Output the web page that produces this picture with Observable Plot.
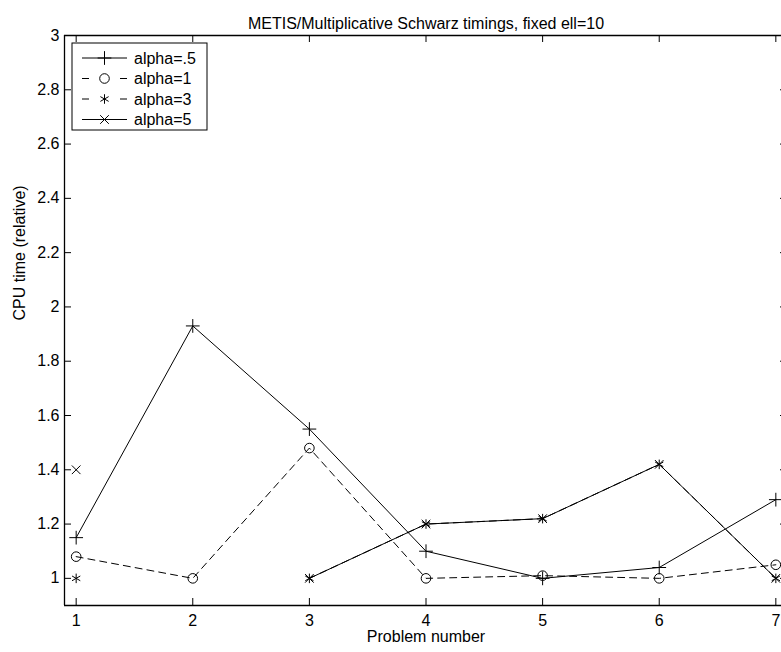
<!DOCTYPE html>
<html><head><meta charset="utf-8">
<script src="https://cdn.jsdelivr.net/npm/d3@7"></script>
<script src="https://cdn.jsdelivr.net/npm/@observablehq/plot@0.6"></script>
<style>
html,body{margin:0;padding:0;background:#fff;}
#chart{width:781px;height:652px;overflow:hidden;position:relative;}
</style></head><body><div id="chart"></div>
<script>
const problems = [1, 2, 3, 4, 5, 6, 7];
const seriesNames = ["alpha=.5", "alpha=1", "alpha=3", "alpha=5"];
const alpha05 = [1.15, 1.93, 1.55, 1.10, 1.00, 1.04, 1.29];
const alpha1  = [1.08, 1.00, 1.48, 1.00, 1.01, 1.00, 1.05];
const alpha3  = [1.00, null, 1.00, 1.20, 1.22, 1.42, 1.00];
const alpha5  = [1.40, null, 1.00, 1.20, 1.22, 1.42, 1.00];
const xTicks = [1, 2, 3, 4, 5, 6, 7];
const yTicks = [1, 1.2, 1.4, 1.6, 1.8, 2, 2.2, 2.4, 2.6, 2.8, 3];
const yTickLabels = ["1", "1.2", "1.4", "1.6", "1.8", "2", "2.2", "2.4", "2.6", "2.8", "3"];
const titleText = "METIS/Multiplicative Schwarz timings, fixed ell=10";
const xLabel = "Problem number";
const yLabel = "CPU time (relative)";

const seriesValues = [alpha05, alpha1, alpha3, alpha5];
const styles = [
  {dash: null, symbol: "plus", r: 4.5},
  {dash: "7,5", symbol: "circle", r: 4.8},
  {dash: "7,5", symbol: "asterisk", r: 4.5},
  {dash: null, symbol: "times", r: 4.0}
];

const rows = seriesNames.map((name, i) => problems.map((p, j) => ({series: name, x: p, y: seriesValues[i][j]})));

const W = 781, H = 652, mL = 64, mR = -6, mT = 35, mB = 47;
const innerW = W - mR - mL, innerH = H - mB - mT, tick = 7;
const font = "'Liberation Sans', Arial, Helvetica, sans-serif";

const marks = [];
rows.forEach((data, i) => {
  const s = styles[i];
  marks.push(Plot.line(data, {x: "x", y: "y", stroke: "black", strokeWidth: 1, strokeDasharray: s.dash || undefined}));
  marks.push(Plot.dot(data.filter(d => d.y != null), {x: "x", y: "y", symbol: () => s.symbol, r: s.r, stroke: "black", fill: "none", strokeWidth: 1}));
});

// frame
marks.push(Plot.ruleY([0.9, 3], {y: d => d, x1: 0.9, x2: 7.1, stroke: "black", strokeWidth: 1.3}));
marks.push(Plot.ruleX([0.9, 7.1], {x: d => d, y1: 0.9, y2: 3, stroke: "black", strokeWidth: 1.3}));
// inward ticks (span the frame, shortened by insets)
marks.push(Plot.tickX(xTicks, {x: d => d, insetTop: innerH - tick, stroke: "black", strokeWidth: 1}));
marks.push(Plot.tickX(xTicks, {x: d => d, insetBottom: innerH - tick, stroke: "black", strokeWidth: 1}));
marks.push(Plot.tickY(yTicks, {y: d => d, insetRight: innerW - tick, stroke: "black", strokeWidth: 1}));
marks.push(Plot.tickY(yTicks, {y: d => d, insetLeft: innerW - tick, stroke: "black", strokeWidth: 1}));
// axes labels
marks.push(Plot.axisX({ticks: xTicks, anchor: "bottom", tickSize: 0, tickPadding: 9, label: null, tickFormat: d => String(d), fill: "black"}));
marks.push(Plot.axisY({ticks: yTicks, anchor: "left", tickSize: 0, tickPadding: 5, label: null, tickFormat: (d, i) => yTickLabels[i], fill: "black"}));
marks.push(Plot.text([xLabel], {text: d => d, frameAnchor: "bottom", dy: 36, fill: "black"}));
marks.push(Plot.text([yLabel], {text: d => d, frameAnchor: "left", dx: -45, rotate: -90, fill: "black"}));
marks.push(Plot.text([titleText], {text: d => d, frameAnchor: "top", dy: -18, fill: "black"}));

const chart = Plot.plot({
  width: W, height: H,
  marginLeft: mL, marginRight: mR, marginTop: mT, marginBottom: mB,
  x: {domain: [0.9, 7.1], range: [mL, W - mR]},
  y: {domain: [0.9, 3], range: [H - mB, mT]},
  style: {fontFamily: font, fontSize: "16px", background: "white", color: "black", overflow: "hidden"},
  marks
});
document.getElementById("chart").appendChild(chart);

// legend
const svg = d3.select(chart);
const lg = svg.append("g").attr("font-family", font).attr("font-size", 16).attr("text-anchor", "start");
const bx = 72, by = 43, bw = 135, bh = 87;
lg.append("rect").attr("x", bx).attr("y", by).attr("width", bw).attr("height", bh)
  .attr("fill", "white").attr("stroke", "black").attr("stroke-width", 1);
const symMap = {plus: d3.symbolPlus, circle: d3.symbolCircle, asterisk: d3.symbolAsterisk, times: d3.symbolTimes};
seriesNames.forEach((name, i) => {
  const s = styles[i];
  const yy = 58 + i * 20.5;
  if (s.dash) {
    lg.append("line").attr("x1", 82).attr("x2", 89).attr("y1", yy).attr("y2", yy).attr("stroke", "black");
    lg.append("line").attr("x1", 120).attr("x2", 127).attr("y1", yy).attr("y2", yy).attr("stroke", "black");
  } else {
    lg.append("line").attr("x1", 82).attr("x2", 127).attr("y1", yy).attr("y2", yy).attr("stroke", "black");
  }
  lg.append("path").attr("d", d3.symbol(symMap[s.symbol], Math.PI * s.r * s.r)())
    .attr("transform", `translate(104.5,${yy})`).attr("fill", "none").attr("stroke", "black");
  lg.append("text").attr("x", 134).attr("y", yy).attr("dy", "0.35em").attr("text-anchor", "start").attr("fill", "black").text(name);
});
</script></body></html>
